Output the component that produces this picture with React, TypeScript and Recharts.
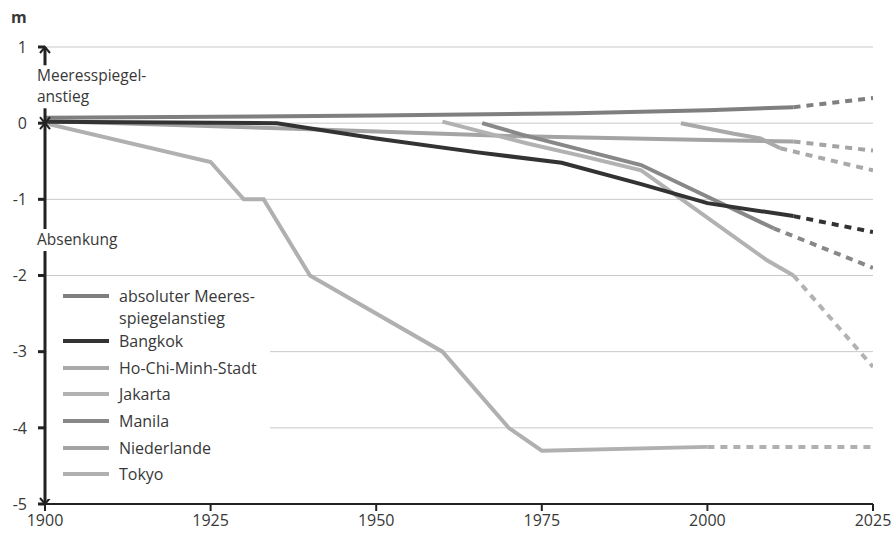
import React from 'react';
import { LineChart, Line, XAxis, YAxis, CartesianGrid, Legend, ReferenceDot } from 'recharts';

const yearTicks = [1900, 1925, 1950, 1975, 2000, 2025];
const meterTicks = [1, 0, -1, -2, -3, -4, -5];

// measured series (solid) and projection to 2025 (dashed)
const seaYears = [1900, 1950, 1980, 2000, 2013];
const seaValues = [0.07, 0.1, 0.13, 0.17, 0.21];
const seaForecastYears = [2013, 2025];
const seaForecastValues = [0.21, 0.33];

const bangkokYears = [1900, 1935, 1950, 1965, 1978, 1990, 2000, 2013];
const bangkokValues = [0.02, 0.0, -0.2, -0.38, -0.52, -0.8, -1.05, -1.22];
const bangkokForecastYears = [2013, 2025];
const bangkokForecastValues = [-1.22, -1.43];

const hcmcYears = [1996, 2004, 2008, 2011];
const hcmcValues = [0.0, -0.14, -0.2, -0.33];
const hcmcForecastYears = [2011, 2025];
const hcmcForecastValues = [-0.33, -0.62];

const jakartaYears = [1960, 1973, 1981, 1990, 2009, 2013];
const jakartaValues = [0.02, -0.27, -0.43, -0.62, -1.8, -2.0];
const jakartaForecastYears = [2013, 2025];
const jakartaForecastValues = [-2.0, -3.2];

const manilaYears = [1966, 1972, 1990, 2010];
const manilaValues = [0.0, -0.15, -0.55, -1.38];
const manilaForecastYears = [2010, 2025];
const manilaForecastValues = [-1.38, -1.9];

const nlYears = [1900, 1940, 1970, 2000, 2013];
const nlValues = [0.03, -0.08, -0.17, -0.22, -0.24];
const nlForecastYears = [2013, 2025];
const nlForecastValues = [-0.24, -0.36];

const tokyoYears = [1900, 1925, 1930, 1933, 1940, 1960, 1970, 1975, 2000];
const tokyoValues = [0.0, -0.51, -1.0, -1.0, -2.0, -3.0, -4.0, -4.3, -4.25];
const tokyoForecastYears = [2000, 2025];
const tokyoForecastValues = [-4.25, -4.25];

const toPoints = (years: number[], values: number[]) => years.map((year, i) => ({ year, value: values[i] }));

const series = [
    { key: 'nl', label: ['Niederlande'], color: '#a4a4a4', years: nlYears, values: nlValues, fYears: nlForecastYears, fValues: nlForecastValues },
    { key: 'tokyo', label: ['Tokyo'], color: '#b0b0b0', years: tokyoYears, values: tokyoValues, fYears: tokyoForecastYears, fValues: tokyoForecastValues },
    { key: 'hcmc', label: ['Ho-Chi-Minh-Stadt'], color: '#a9a9a9', years: hcmcYears, values: hcmcValues, fYears: hcmcForecastYears, fValues: hcmcForecastValues },
    { key: 'jakarta', label: ['Jakarta'], color: '#b2b2b2', years: jakartaYears, values: jakartaValues, fYears: jakartaForecastYears, fValues: jakartaForecastValues },
    { key: 'manila', label: ['Manila'], color: '#888888', years: manilaYears, values: manilaValues, fYears: manilaForecastYears, fValues: manilaForecastValues },
    { key: 'bangkok', label: ['Bangkok'], color: '#333333', years: bangkokYears, values: bangkokValues, fYears: bangkokForecastYears, fValues: bangkokForecastValues },
    { key: 'sea', label: ['absoluter Meeres-', 'spiegelanstieg'], color: '#7f7f7f', years: seaYears, values: seaValues, fYears: seaForecastYears, fValues: seaForecastValues },
];

const legendOrder = ['sea', 'bangkok', 'hcmc', 'jakarta', 'manila', 'nl', 'tokyo'];

const textColor = '#383838';
const axisColor = '#222222';

const LegendBox = () => (
    <div style={{ paddingTop: 6, fontSize: 16, color: textColor }}>
        {legendOrder.map((k, idx) => {
            const s = series.find((x) => x.key === k)!;
            return (
                <div key={k} style={{ display: 'flex', alignItems: 'flex-start', marginBottom: idx === 0 ? 1 : 4.7, lineHeight: '22px' }}>
                    <div style={{ width: 46, height: 4, background: s.color, marginLeft: 16, marginTop: 9, flexShrink: 0 }} />
                    <div style={{ marginLeft: 10 }}>
                        {s.label.map((l) => (
                            <div key={l}>{l}</div>
                        ))}
                    </div>
                </div>
            );
        })}
    </div>
);

const AxisNote = ({ cx, cy, lines, width }: { cx: number; cy: number; lines: string[]; width: number }) => (
    <g>
        <rect x={cx - 9} y={cy - 16} width={width} height={lines.length * 21 + 1} fill="#fff" />
        {lines.map((t, i) => (
            <text key={t} x={cx - 8} y={cy + i * 21} fontSize={15.5} fill={textColor}>
                {t}
            </text>
        ))}
    </g>
);

const Arrow = ({ cx, cy, dir }: { cx: number; cy: number; dir: 'up' | 'down' | 'both' }) => (
    <g stroke={axisColor} strokeWidth={2} fill="none">
        {(dir === 'up' || dir === 'both') && <polyline points={`${cx - 5},${cy + 6} ${cx},${cy} ${cx + 5},${cy + 6}`} />}
        {(dir === 'down' || dir === 'both') && <polyline points={`${cx - 5},${cy - 6} ${cx},${cy} ${cx + 5},${cy - 6}`} />}
    </g>
);

const App: React.FC = () => (
    <div style={{ position: 'absolute', left: 0, top: 0, fontFamily: '"Open Sans", sans-serif' }}>
        <LineChart width={892} height={540} margin={{ top: 47, right: 19, bottom: 6, left: 0 }} style={{ fontFamily: '"Open Sans", sans-serif' }}>
            <CartesianGrid vertical={false} stroke="#c9c9c9" strokeWidth={1} />
            <XAxis
                dataKey="year"
                type="number"
                domain={[1900, 2025]}
                ticks={yearTicks}
                allowDataOverflow
                stroke={axisColor}
                strokeWidth={2}
                tickSize={7}
                tickMargin={4}
                tick={{ fill: textColor, fontSize: 16 }}
                height={30}
            />
            <YAxis
                type="number"
                domain={[-5, 1]}
                ticks={meterTicks}
                width={45}
                stroke={axisColor}
                strokeWidth={3}
                tickSize={7}
                tickMargin={11}
                tick={{ fill: textColor, fontSize: 16 }}
                label={{
                    content: (props: any) => (
                        <text x={props.viewBox.x + 11} y={props.viewBox.y - 24} fontSize={16} fontWeight="bold" fill={textColor}>
                            m
                        </text>
                    ),
                }}
            />
            <Legend
                layout="vertical"
                align="center"
                verticalAlign="middle"
                width={223}
                height={220}
                wrapperStyle={{ left: 47, top: 279, backgroundColor: '#fff' }}
                content={() => <LegendBox />}
            />
            {series.map((s) => (
                <Line
                    key={s.key}
                    data={toPoints(s.years, s.values)}
                    dataKey="value"
                    type="linear"
                    stroke={s.color}
                    strokeWidth={4}
                    dot={false}
                    activeDot={false}
                    isAnimationActive={false}
                    legendType="none"
                />
            ))}
            {series.map((s) => (
                <Line
                    key={s.key + '-f'}
                    data={toPoints(s.fYears, s.fValues)}
                    dataKey="value"
                    type="linear"
                    stroke={s.color}
                    strokeWidth={4}
                    strokeDasharray="7 6"
                    dot={false}
                    activeDot={false}
                    isAnimationActive={false}
                    legendType="none"
                />
            ))}
            <ReferenceDot x={1900} y={0.55} r={0} ifOverflow="visible" shape={(p: any) => <AxisNote cx={p.cx} cy={p.cy} lines={['Meeresspiegel-', 'anstieg']} width={120} />} />
            <ReferenceDot x={1900} y={-1.6} r={0} ifOverflow="visible" shape={(p: any) => <AxisNote cx={p.cx} cy={p.cy} lines={['Absenkung']} width={96} />} />
            <ReferenceDot x={1900} y={1} r={0} ifOverflow="visible" shape={(p: any) => <Arrow cx={p.cx} cy={p.cy} dir="up" />} />
            <ReferenceDot x={1900} y={0} r={0} ifOverflow="visible" shape={(p: any) => <Arrow cx={p.cx} cy={p.cy} dir="both" />} />
            <ReferenceDot x={1900} y={-5} r={0} ifOverflow="visible" shape={(p: any) => <Arrow cx={p.cx} cy={p.cy} dir="down" />} />
        </LineChart>
    </div>
);

export default App;
